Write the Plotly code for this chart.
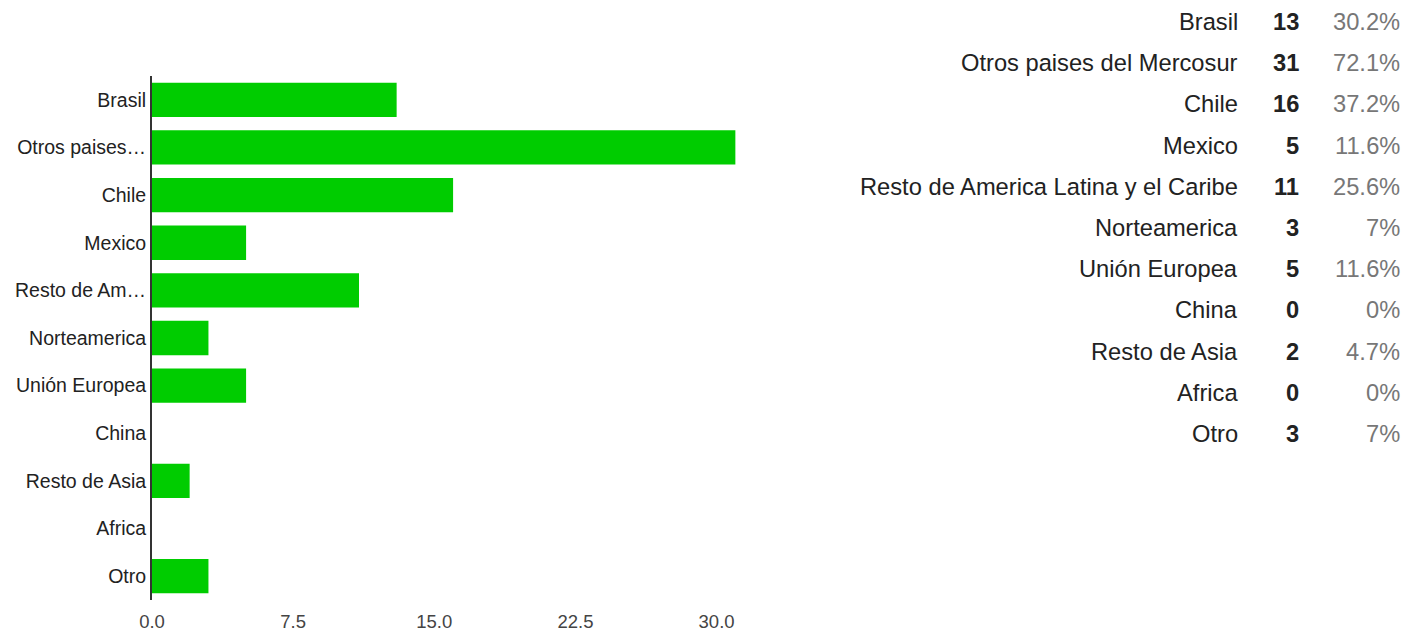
import plotly.graph_objects as go

categories = ["Brasil", "Otros paises del Mercosur", "Chile", "Mexico",
              "Resto de America Latina y el Caribe", "Norteamerica",
              "Unión Europea", "China", "Resto de Asia", "Africa", "Otro"]
axis_labels = ["Brasil", "Otros paises…", "Chile", "Mexico", "Resto de Am…",
               "Norteamerica", "Unión Europea", "China", "Resto de Asia",
               "Africa", "Otro"]
counts = [13, 31, 16, 5, 11, 3, 5, 0, 2, 0, 3]
percents = ["30.2%", "72.1%", "37.2%", "11.6%", "25.6%", "7%", "11.6%",
            "0%", "4.7%", "0%", "7%"]
x_ticks = [0, 7.5, 15, 22.5, 30]

W, H = 1403, 631
L, T, B = 152, 76, 31
x_max = 33
px_per_unit = 18.83
plot_w = x_max * px_per_unit
R = W - L - plot_w
plot_h = H - T - B

FONT = "Liberation Sans, Arial, sans-serif"

fig = go.Figure()
fig.add_trace(go.Bar(
    x=counts, y=categories, orientation="h",
    marker=dict(color="#00cc00", line=dict(width=0)),
    width=0.72, hoverinfo="x+y",
))

fig.update_layout(
    width=W, height=H,
    margin=dict(l=L, r=R, t=T, b=B, pad=0),
    paper_bgcolor="white", plot_bgcolor="white",
    showlegend=False,
    font=dict(family=FONT, size=19, color="#222222"),
    bargap=0.28,
)
fig.update_xaxes(
    range=[0, x_max], tickvals=x_ticks, ticktext=[f"{v:.1f}" for v in x_ticks],
    showgrid=False, zeroline=False, showline=False, ticks="",
    ticklabelstandoff=8,
    tickfont=dict(size=18.5, color="#444444"), automargin=False,
)
fig.update_yaxes(
    categoryorder="array", categoryarray=categories,
    autorange="reversed",
    tickvals=categories, ticktext=axis_labels,
    showgrid=False, zeroline=False, showline=True, linecolor="#333333",
    linewidth=2, ticks="", ticklabelstandoff=0,
    tickfont=dict(size=19.5, color="#222222"), automargin=False,
)

# side table
name_right_px = 1241
count_right_px = 1302
pct_right_px = 1403
row0_px = 22
row_step = 41.2
TABLE_SIZE = 23.7


def px_to_paper_x(px):
    return (px - L) / plot_w


def px_to_paper_y(py):
    return (H - B - py) / plot_h


for i, (name, c, p) in enumerate(zip(categories, counts, percents)):
    yy = px_to_paper_y(row0_px + i * row_step)
    common = dict(xref="paper", yref="paper", y=yy, yanchor="middle",
                  showarrow=False, xanchor="right")
    fig.add_annotation(x=px_to_paper_x(name_right_px), text=name,
                       font=dict(family=FONT, size=TABLE_SIZE, color="#222222"), **common)
    fig.add_annotation(x=px_to_paper_x(count_right_px), text=f"<b>{c}</b>",
                       font=dict(family=FONT, size=TABLE_SIZE, color="#222222"), **common)
    fig.add_annotation(x=px_to_paper_x(pct_right_px), text=p,
                       font=dict(family=FONT, size=TABLE_SIZE, color="#777777"), **common)

fig.write_html(
    "out.html",
    config={"displayModeBar": False},
    post_script="document.body.style.margin='0';document.body.style.overflow='hidden';",
)
